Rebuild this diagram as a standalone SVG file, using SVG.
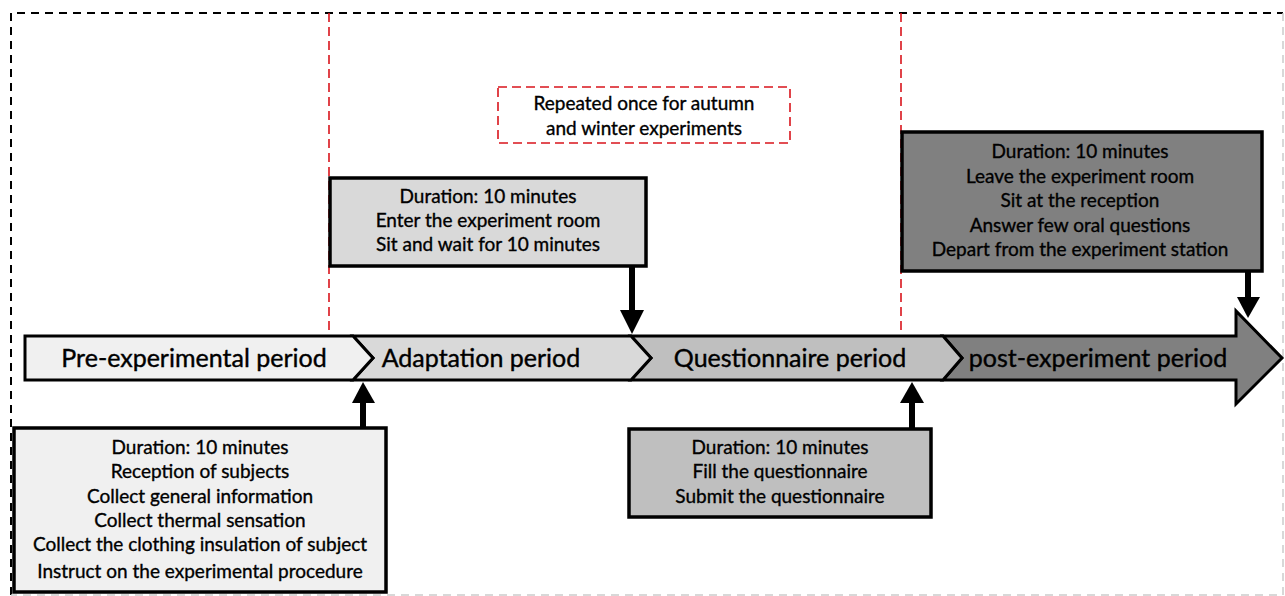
<svg xmlns="http://www.w3.org/2000/svg" width="1285" height="596" viewBox="0 0 1285 596">
<defs>
<style>
.t{font-family:Lato,"Noto Sans",sans-serif;font-size:19px;fill:#000;stroke:#000;stroke-width:0.35;text-anchor:middle}
.p{font-family:Lato,"Noto Sans",sans-serif;font-size:25px;fill:#000;stroke:#000;stroke-width:0.4;text-anchor:middle}
.box{stroke:#000;stroke-width:3.5}
.seg{stroke:#000;stroke-width:3;stroke-linejoin:miter}
.red{fill:none;stroke:#d9141c;stroke-width:1.6;stroke-dasharray:9 5}
.conn{stroke:#000;stroke-width:6}
</style>
</defs>
<rect x="0" y="0" width="1285" height="596" fill="#fff"/>
<g id="frame">
<path d="M11,595 L11,13 L1283,13" fill="none" stroke="#000" stroke-width="2" stroke-dasharray="8 6"/>
<path d="M1283,13 L1283,595 L11,595" fill="none" stroke="#ccc" stroke-width="1.5" stroke-dasharray="8 6"/>
<line class="red" x1="329" y1="13" x2="329" y2="340"/>
<line class="red" x1="901" y1="13" x2="901" y2="340"/>
</g>
<g id="timeline">
<path id="seg4" class="seg" fill="#808080" d="M943,336 L1236,336 L1236,311 L1282,358 L1236,404 L1236,380 L943,380 L962,358 Z"/>
<path id="seg3" class="seg" fill="#bfbfbf" d="M631,336 L943,336 L962,358 L943,380 L631,380 L651,358 Z"/>
<path id="seg2" class="seg" fill="#d9d9d9" d="M353,336 L631,336 L651,358 L631,380 L353,380 L373,358 Z"/>
<path id="seg1" class="seg" fill="#f0f0f0" d="M25,336 L353,336 L373,358 L353,380 L25,380 Z"/>
<text class="p" x="194" y="367">Pre-experimental period</text>
<text class="p" x="481" y="367">Adaptation period</text>
<text class="p" x="790" y="367">Questionnaire period</text>
<text class="p" x="1098" y="367">post-experiment period</text>
</g>
<g id="connectors">
<line class="conn" x1="363" y1="428" x2="363" y2="398"/>
<path d="M352,403 L363,382 L375,403 Z" fill="#000"/>
<line class="conn" x1="632" y1="266" x2="632" y2="314"/>
<path d="M620,310 L632,334 L644,310 Z" fill="#000"/>
<line class="conn" x1="912" y1="428" x2="912" y2="398"/>
<path d="M900,403 L912,382 L924,403 Z" fill="#000"/>
<line class="conn" x1="1248" y1="272" x2="1248" y2="300"/>
<path d="M1237,297 L1248,318 L1260,297 Z" fill="#000"/>
</g>
<g id="note">
<rect class="red" x="498" y="87" width="292" height="56"/>
<text class="t" x="644" y="110">Repeated once for autumn</text>
<text class="t" x="644" y="135">and winter experiments</text>
</g>
<g id="pre-box">
<rect class="box" fill="#f0f0f0" x="14" y="428" width="372" height="164"/>
<text class="t" x="200" y="454">Duration: 10 minutes</text>
<text class="t" x="200" y="478">Reception of subjects</text>
<text class="t" x="200" y="503">Collect general information</text>
<text class="t" x="200" y="527">Collect thermal sensation</text>
<text class="t" x="200" y="551">Collect the clothing insulation of subject</text>
<text class="t" x="200" y="578">Instruct on the experimental procedure</text>
</g>
<g id="adapt-box">
<rect class="box" fill="#d9d9d9" x="330" y="178" width="316" height="88"/>
<text class="t" x="488" y="203">Duration: 10 minutes</text>
<text class="t" x="488" y="227">Enter the experiment room</text>
<text class="t" x="488" y="251">Sit and wait for 10 minutes</text>
</g>
<g id="quest-box">
<rect class="box" fill="#bfbfbf" x="629" y="429" width="302" height="88"/>
<text class="t" x="780" y="454">Duration: 10 minutes</text>
<text class="t" x="780" y="478">Fill the questionnaire</text>
<text class="t" x="780" y="503">Submit the questionnaire</text>
</g>
<g id="post-box">
<rect class="box" fill="#808080" x="902" y="132" width="360" height="139"/>
<text class="t" x="1080" y="158">Duration: 10 minutes</text>
<text class="t" x="1080" y="183">Leave the experiment room</text>
<text class="t" x="1080" y="207">Sit at the reception</text>
<text class="t" x="1080" y="232">Answer few oral questions</text>
<text class="t" x="1080" y="256">Depart from the experiment station</text>
</g>
</svg>
